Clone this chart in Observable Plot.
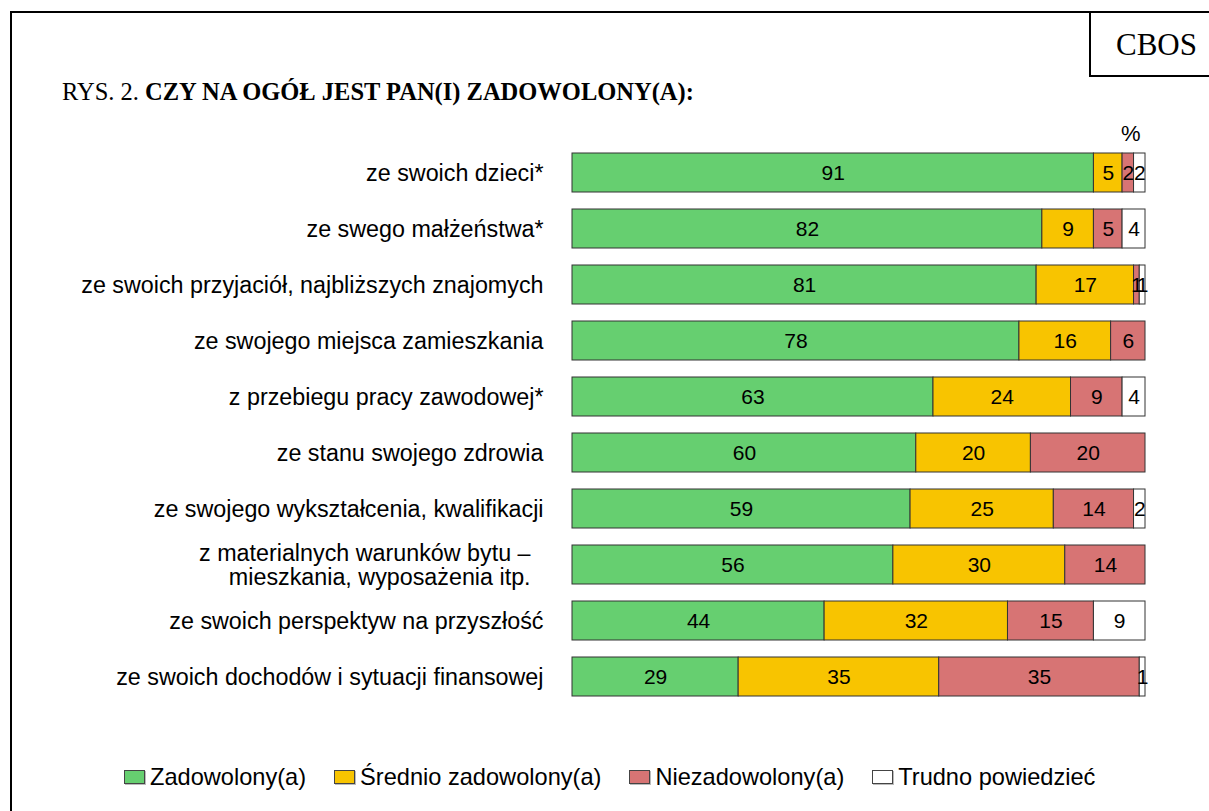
<!DOCTYPE html>
<html>
<head>
<meta charset="utf-8">
<script src="https://cdn.jsdelivr.net/npm/d3@7"></script>
<script src="https://cdn.jsdelivr.net/npm/@observablehq/plot@0.6"></script>
<style>
  html, body { margin: 0; padding: 0; background: #fff; }
  #page { position: relative; width: 1209px; height: 811px; overflow: hidden; background: #fff; }
  #frameL { position: absolute; left: 10px; top: 11px; width: 2px; height: 820px; background: #000; }
  #frameT { position: absolute; left: 10px; top: 11px; width: 1220px; height: 2px; background: #000; }
  #cbosBox { position: absolute; left: 1089px; top: 11px; width: 140px; height: 64px; border-left: 2px solid #000; border-bottom: 2px solid #000; }
  #cbos { position: absolute; left: 1116px; top: 30px; font: 31px/30px "Liberation Serif", "Times New Roman", serif; color: #000; }
  #title { position: absolute; left: 62px; top: 80px; font: 24.5px/24px "Liberation Serif", "Times New Roman", serif; color: #000; white-space: nowrap; }
  #title b { font-weight: bold; }
  #chart { position: absolute; left: 0; top: 0; }
  #legend { position: absolute; left: 124px; top: 765px; display: flex; align-items: center; font: 23.6px/24px "Liberation Sans", Arial, sans-serif; color: #000; white-space: nowrap; }
  .item { display: flex; align-items: center; margin-right: 28px; }
  .sw { width: 19px; height: 12px; border: 1px solid #444; margin-right: 5px; box-shadow: 1px 1px 0 #bbb; }
</style>
</head>
<body>
<div id="page">
  <div id="frameL"></div>
  <div id="frameT"></div>
  <div id="cbosBox"></div>
  <div id="cbos">CBOS</div>
  <div id="title">RYS. 2. <b>CZY NA OGÓŁ JEST PAN(I) ZADOWOLONY(A):</b></div>
  <div id="chart"></div>
  <div id="legend"></div>
</div>
<script>
const categories = [
  "ze swoich dzieci*",
  "ze swego małżeństwa*",
  "ze swoich przyjaciół, najbliższych znajomych",
  "ze swojego miejsca zamieszkania",
  "z przebiegu pracy zawodowej*",
  "ze stanu swojego zdrowia",
  "ze swojego wykształcenia, kwalifikacji",
  "z materialnych warunków bytu – mieszkania, wyposażenia itp.",
  "ze swoich perspektyw na przyszłość",
  "ze swoich dochodów i sytuacji finansowej"
];
const categoryLabels = [
  "ze swoich dzieci*",
  "ze swego małżeństwa*",
  "ze swoich przyjaciół, najbliższych znajomych",
  "ze swojego miejsca zamieszkania",
  "z przebiegu pracy zawodowej*",
  "ze stanu swojego zdrowia",
  "ze swojego wykształcenia, kwalifikacji",
  "z materialnych warunków bytu –\u00A0\u00A0\nmieszkania, wyposażenia itp.\u00A0\u00A0",
  "ze swoich perspektyw na przyszłość",
  "ze swoich dochodów i sytuacji finansowej"
];
const responses = ["Zadowolony(a)", "Średnio zadowolony(a)", "Niezadowolony(a)", "Trudno powiedzieć"];
const zadowolony = [91, 82, 81, 78, 63, 60, 59, 56, 44, 29];
const srednio    = [5, 9, 17, 16, 24, 20, 25, 30, 32, 35];
const niezadowolony = [2, 5, 1, 6, 9, 20, 14, 14, 15, 35];
const trudno     = [2, 4, 1, 0, 4, 0, 2, 0, 9, 1];
const colors = ["#66CF70", "#F8C400", "#D77474", "#FFFFFF"];

const series = [zadowolony, srednio, niezadowolony, trudno];
const rows = [];
categories.forEach((c, i) => {
  responses.forEach((r, j) => {
    const v = series[j][i];
    if (v > 0) rows.push({cat: c, resp: r, value: v});
  });
});
const labelOf = new Map(categories.map((c, i) => [c, categoryLabels[i]]));

const chart = Plot.plot({
  width: 1209,
  height: 811,
  marginLeft: 572,
  marginRight: 64,
  marginTop: 142,
  marginBottom: 104,
  style: {fontFamily: "'Liberation Sans', Arial, sans-serif", background: "transparent", color: "#000"},
  x: {domain: [0, 100], axis: null},
  y: {domain: categories, paddingInner: 0.31, paddingOuter: 0.155, axis: null},
  color: {domain: responses, range: colors},
  marks: [
    Plot.barX(rows, Plot.stackX({x: "value", y: "cat", fill: "resp", order: responses, stroke: "#333", strokeWidth: 1})),
    Plot.text(rows, Plot.stackX({x: "value", y: "cat", z: "resp", order: responses, text: d => String(d.value), fontSize: 21, fill: "#000"})),
    Plot.axisY({tickSize: 0, tickPadding: 29, fontSize: 23.3, lineHeight: 1.04, label: null, tickFormat: d => labelOf.get(d), fill: "#000"}),
    Plot.text(["%"], {frameAnchor: "top-right", dx: -5, dy: -17, fontSize: 22, fill: "#000"})
  ]
});
document.getElementById("chart").appendChild(chart);

const legend = document.getElementById("legend");
responses.forEach((r, i) => {
  const item = document.createElement("div");
  item.className = "item";
  const sw = document.createElement("span");
  sw.className = "sw";
  sw.style.background = colors[i];
  const t = document.createElement("span");
  t.textContent = r;
  item.appendChild(sw);
  item.appendChild(t);
  legend.appendChild(item);
});
</script>
</body>
</html>
